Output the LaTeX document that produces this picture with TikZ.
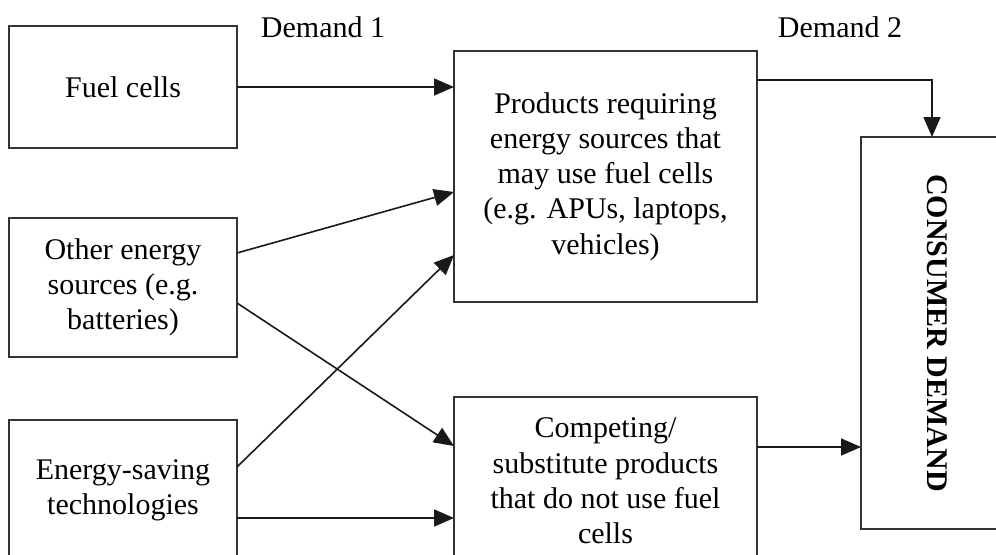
\documentclass[tikz,border=0pt]{standalone}
\usepackage{fontspec}
\setmainfont{Liberation Serif}
\usetikzlibrary{positioning, calc, arrows.meta}

\begin{document}
\begin{tikzpicture}[x=0.5pt, y=0.5pt,
    every node/.style={font=\fontsize{15}{17.6}\selectfont, align=center},
    box/.style={draw=black!80, line width=0.9pt, inner sep=0pt, outer sep=0pt, minimum width=114pt},
    link/.style={-{Triangle[length=10pt,width=8.5pt]}, line width=0.8pt, draw=black!90}]
    \useasboundingbox (0,0) rectangle (996,554);
    \clip (0,0) rectangle (996,554);

    % Headings
    \node (D1) at (323,527) {Demand 1};
    \node (D2) at (840,527) {Demand 2};

    % Sources
    \node[box, minimum height=61pt] (FC) at (123,467) {Fuel cells};
    \node[box, minimum height=69.5pt, below=35pt of FC] (OES) {Other energy\\ sources (e.g.\\ batteries)};
    \node[box, minimum height=70pt, below=31.5pt of OES] (EST) {Energy-saving\\ technologies};

    % Products
    \node[box, minimum width=151.5pt, minimum height=125.5pt] (PR) at (605.5,377.5) {Products requiring\\ energy sources that\\ may use fuel cells\\ (e.g. APUs, laptops,\\ vehicles)};
    \node[box, minimum width=151.5pt, minimum height=84pt, below=47.5pt of PR] (CP) {Competing/\\ substitute products\\ that do not use fuel\\ cells};

    % Consumer demand
    \node[box, minimum width=76pt, minimum height=196pt] (CD) at (937,221) {\rotatebox{-90}{\bfseries CONSUMER DEMAND}};

    % Demand 1 links
    \draw[link] (FC.east) -- (FC.east -| PR.west);
    \draw[link] ($(OES.east)+(0,34.5)$) -- ($(PR.west)+(0,-15.5)$);
    \draw[link] ($(EST.east)+(0,23)$) -- ($(PR.west)+(0,-78.5)$);
    \draw[link] ($(OES.east)+(0,-15.5)$) -- ($(CP.west)+(0,35)$);
    \draw[link] ($(EST.east)+(0,-28)$) -- ($(CP.west)+(0,-37)$);

    % Demand 2 links
    \draw[link] ($(PR.east)+(0,96.5)$) -| ($(CD.north)+(-5,0)$);
    \draw[link] ($(CP.east)+(0,34)$) -- ($(CD.west)+(0,-114)$);
\end{tikzpicture}
\end{document}
